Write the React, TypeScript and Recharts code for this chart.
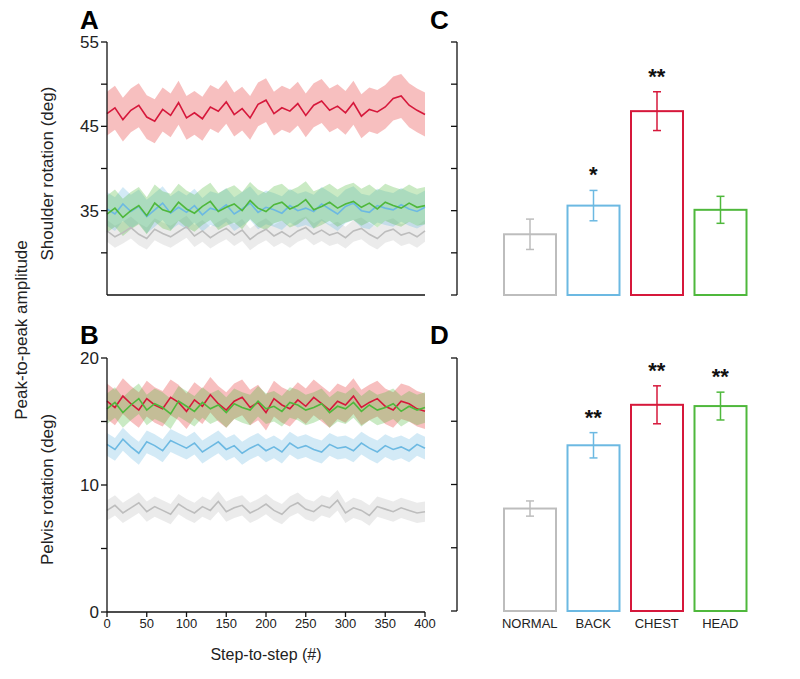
import { ComposedChart, Area, Line, Bar, XAxis, YAxis, LabelList } from 'recharts';

const steps = [0,10,20,30,40,50,60,70,80,90,100,110,120,130,140,150,160,170,180,190,200,210,220,230,240,250,260,270,280,290,300,310,320,330,340,350,360,370,380,390,400];

// shoulder rotation means (deg)
const shRed = [46.5,47.2,45.8,46.9,47.5,46.1,45.6,47.0,46.3,47.8,46.0,46.6,45.9,47.3,46.8,47.9,46.4,47.1,46.0,47.6,48.1,46.5,47.2,46.8,47.7,46.3,47.5,48.0,46.9,47.4,46.6,47.8,46.2,47.0,46.7,47.3,48.3,48.6,47.5,46.9,46.4];
const shBlue = [35.2,34.6,35.8,34.9,35.5,34.3,35.1,35.9,34.7,35.4,34.8,35.6,34.5,35.3,35.0,35.7,34.6,35.2,35.9,34.8,35.4,35.1,34.7,35.6,35.0,35.3,34.9,35.8,35.2,34.6,35.5,35.9,35.0,34.8,35.6,35.3,35.1,35.7,35.2,34.9,35.4];
const shGreen = [34.6,35.3,34.2,35.0,35.6,34.4,35.9,35.1,34.8,36.0,35.2,34.7,35.5,36.1,34.9,35.4,35.8,35.0,36.2,35.3,34.9,35.7,36.0,35.2,35.6,36.3,35.1,35.5,36.0,35.3,35.8,36.1,35.4,35.9,35.2,36.0,35.6,35.3,35.9,35.4,35.6];
const shGray = [32.6,31.9,32.4,33.0,32.2,31.7,32.8,32.3,31.9,32.5,33.1,32.0,32.6,31.8,32.4,32.9,32.1,32.7,31.6,32.3,32.8,32.0,32.5,31.9,32.6,33.0,32.2,32.7,32.1,32.4,31.8,32.6,32.9,32.2,31.7,32.5,32.8,32.1,32.4,31.9,32.6];
// pelvis rotation means (deg)
const pvRed = [16.6,16.1,17.0,16.4,15.9,16.8,16.3,16.0,16.9,16.5,15.8,16.7,16.2,17.1,16.4,15.9,16.6,16.9,16.1,16.5,15.7,16.8,16.3,16.0,16.7,16.2,16.9,16.4,15.9,16.6,16.3,17.0,16.1,16.5,16.8,16.2,15.9,16.6,16.4,16.0,15.8];
const pvGreen = [16.0,16.5,15.7,16.3,16.8,15.9,16.4,16.1,15.6,16.6,16.2,15.8,16.5,16.0,16.3,15.7,16.4,16.1,15.9,16.6,16.0,16.2,15.8,16.5,16.3,15.9,16.1,16.4,15.7,16.2,16.0,16.5,15.8,16.3,15.9,16.1,16.4,15.8,16.2,15.9,16.1];
const pvBlue = [13.2,12.8,13.6,13.0,12.5,13.4,13.1,12.7,13.5,13.2,12.9,13.3,12.6,13.0,13.4,12.8,13.1,12.5,12.9,13.2,12.7,13.0,12.6,13.3,12.9,13.1,12.8,12.6,13.2,12.9,13.0,12.7,13.3,12.9,12.6,13.1,12.8,13.0,12.7,13.2,12.9];
const pvGray = [8.0,8.4,7.8,8.2,8.6,7.9,8.3,8.0,7.7,8.5,8.1,7.8,8.3,8.0,8.7,7.9,8.2,8.4,7.8,8.1,8.5,8.0,7.7,8.3,8.6,8.1,7.9,8.4,8.2,8.8,7.8,8.2,8.0,7.6,8.3,8.1,7.9,8.2,8.0,7.8,7.9];

// half-width of the shaded SD bands
const shBand = { red: 2.6, blue: 2.0, green: 2.2, gray: 1.3 };
const pvBand = { red: 1.4, blue: 0.9, green: 1.2, gray: 0.8 };

const groups = ['NORMAL', 'BACK', 'CHEST', 'HEAD'];
const shMean = [32.2, 35.6, 46.8, 35.1];
const shErr = [1.8, 1.8, 2.3, 1.6];
const shStars = ['', '*', '**', ''];
const pvMean = [8.1, 13.1, 16.3, 16.2];
const pvErr = [0.6, 1.0, 1.5, 1.1];
const pvStars = ['', '**', '**', '**'];

const RED = '#d6183b';
const BLUE = '#6cb9e2';
const GREEN = '#4fb83c';
const GRAY = '#bdbdbd';
const colors = [GRAY, BLUE, RED, GREEN];
const bandColors: Record<string, string> = { red: '#f08a8a', blue: BLUE, green: GREEN, gray: GRAY };
const FONT = 'Arial, "Liberation Sans", sans-serif';

const shRows = steps.map((x, i) => ({
  x,
  red: shRed[i], redB: [shRed[i] - shBand.red, shRed[i] + shBand.red],
  blue: shBlue[i], blueB: [shBlue[i] - shBand.blue, shBlue[i] + shBand.blue],
  green: shGreen[i], greenB: [shGreen[i] - shBand.green, shGreen[i] + shBand.green],
  gray: shGray[i], grayB: [shGray[i] - shBand.gray, shGray[i] + shBand.gray],
}));
const pvRows = steps.map((x, i) => ({
  x,
  red: pvRed[i], redB: [pvRed[i] - pvBand.red, pvRed[i] + pvBand.red],
  blue: pvBlue[i], blueB: [pvBlue[i] - pvBand.blue, pvBlue[i] + pvBand.blue],
  green: pvGreen[i], greenB: [pvGreen[i] - pvBand.green, pvGreen[i] + pvBand.green],
  gray: pvGray[i], grayB: [pvGray[i] - pvBand.gray, pvGray[i] + pvBand.gray],
}));
const shBars = groups.map((g, i) => ({ g, v: shMean[i], e: shErr[i], top: shMean[i] + shErr[i], s: shStars[i] }));
const pvBars = groups.map((g, i) => ({ g, v: pvMean[i], e: pvErr[i], top: pvMean[i] + pvErr[i], s: pvStars[i] }));

const tickStyle = { fill: '#222', fontSize: 17, fontFamily: FONT };
const axisLine = { stroke: '#111', strokeWidth: 1.3 };

function seriesLayers(order: [string, string][]) {
  return order.map(([k, c]) => [
    <Area key={k + 'b'} dataKey={k + 'B'} stroke="none" fill={bandColors[k]} fillOpacity={k === 'red' ? 0.55 : 0.3} isAnimationActive={false} type="linear" />,
    <Line key={k} dataKey={k} stroke={c} strokeWidth={1.6} dot={false} isAnimationActive={false} type="linear" />,
  ]);
}

function Letter({ t, x, y }: { t: string; x: number; y: number }) {
  return <div style={{ position: 'absolute', left: x, top: y, fontSize: 26, fontWeight: 'bold', fontFamily: FONT }}>{t}</div>;
}

function StarLabel(props: any) {
  const { x, y, value } = props;
  if (!value) return null;
  return <text x={x} y={y - 8} textAnchor="middle" fontSize={22} fontWeight="bold" fontFamily={FONT} fill="#111">{value}</text>;
}

function BarPanel({ data, domain, ticks, top, labels }: { data: any[]; domain: [number, number]; ticks: number[]; top: number; labels: boolean }) {
  const base = domain[0];
  return (
    <div style={{ position: 'absolute', left: 420, top }}>
      <ComposedChart width={380} height={300} data={data} margin={{ top: 12, right: 30, left: 7, bottom: 0 }}>
        <YAxis domain={domain} ticks={ticks} width={30} tickFormatter={() => ''} axisLine={axisLine} tickLine={axisLine} tickSize={6} />
        <XAxis dataKey="g" padding={{ left: 41, right: 18 }} axisLine={false} tickLine={false} height={35}
          tick={{ fill: '#222', fontSize: 13, fontFamily: FONT }} tickFormatter={(v) => (labels ? v : '')} />
        <Bar dataKey="v" barSize={52} fill="#fff" isAnimationActive={false}
          shape={(p: any) => {
            // pixels per unit from the bar's own scaled height
            const k = p.height / (p.payload.v - base);
            const e = p.payload.e * k;
            const cx = p.x + p.width / 2;
            const c = colors[p.index];
            return (
              <g>
                <rect x={p.x} y={p.y} width={p.width} height={p.height} fill="#fff" stroke={c} strokeWidth={2} />
                <line x1={cx} x2={cx} y1={p.y - e} y2={p.y + e} stroke={c} strokeWidth={1.5} />
                <line x1={cx - 4} x2={cx + 4} y1={p.y - e} y2={p.y - e} stroke={c} strokeWidth={1.5} />
                <line x1={cx - 4} x2={cx + 4} y1={p.y + e} y2={p.y + e} stroke={c} strokeWidth={1.5} />
              </g>
            );
          }} />
        <Line dataKey="top" stroke="none" dot={false} isAnimationActive={false}>
          <LabelList dataKey="s" content={StarLabel} />
        </Line>
      </ComposedChart>
    </div>
  );
}

export default function App() {
  return (
    <div style={{ position: 'absolute', left: 0, top: 0, width: 800, height: 679, background: '#fff', fontFamily: FONT }}>
      <div style={{ position: 'absolute', left: 0, top: 30 }}>
        <ComposedChart width={440} height={270} data={shRows} margin={{ top: 12, right: 15, left: 47, bottom: 0 }}>
          <XAxis dataKey="x" type="number" domain={[0, 400]} ticks={[0,50,100,150,200,250,300,350,400]} tick={false} height={5}
            axisLine={axisLine} tickLine={false} />
          <YAxis domain={[25, 55]} ticks={[25,30,35,40,45,50,55]} tickFormatter={(v) => ((v - 25) % 10 === 0 ? String(v) : '')}
            width={60} tick={tickStyle} axisLine={axisLine} tickLine={axisLine} tickSize={6}
            label={{ value: 'Shoulder rotation (deg)', angle: -90, position: 'insideLeft', offset: 0, dy: 92, style: { fontSize: 17, fill: '#222', fontFamily: FONT } }} />
          {seriesLayers([['gray', GRAY], ['blue', BLUE], ['green', GREEN], ['red', RED]])}
        </ComposedChart>
      </div>
      <div style={{ position: 'absolute', left: 0, top: 345 }}>
        <ComposedChart width={440} height={330} data={pvRows} margin={{ top: 13, right: 15, left: 47, bottom: 13 }}>
          <XAxis dataKey="x" type="number" domain={[0, 400]} ticks={[0,50,100,150,200,250,300,350,400]} height={50}
            tick={{ ...tickStyle, fontSize: 13 }} axisLine={axisLine} tickLine={axisLine} tickSize={5}
            label={{ value: 'Step-to-step (#)', position: 'insideBottom', offset: 2, style: { fontSize: 16, fill: '#222', fontFamily: FONT } }} />
          <YAxis domain={[0, 20]} ticks={[0,5,10,15,20]} tickFormatter={(v) => (v % 10 === 0 ? String(v) : '')}
            width={60} tick={tickStyle} axisLine={axisLine} tickLine={axisLine} tickSize={6}
            label={{ value: 'Pelvis rotation (deg)', angle: -90, position: 'insideLeft', offset: 0, dy: 80, style: { fontSize: 17, fill: '#222', fontFamily: FONT } }} />
          {seriesLayers([['gray', GRAY], ['blue', BLUE], ['red', RED], ['green', GREEN]])}
        </ComposedChart>
      </div>
      <BarPanel data={shBars} domain={[25, 55]} ticks={[25,30,35,40,45,50,55]} top={30} labels={false} />
      <BarPanel data={pvBars} domain={[0, 20]} ticks={[0,5,10,15,20]} top={346} labels={true} />
      <div style={{ position: 'absolute', left: 22, top: 330, transform: 'translate(-50%,-50%) rotate(-90deg)', fontSize: 17, whiteSpace: 'nowrap', color: '#222' }}>
        Peak-to-peak amplitude
      </div>
      <Letter t="A" x={80} y={5} />
      <Letter t="B" x={80} y={320} />
      <Letter t="C" x={430} y={5} />
      <Letter t="D" x={430} y={320} />
    </div>
  );
}
